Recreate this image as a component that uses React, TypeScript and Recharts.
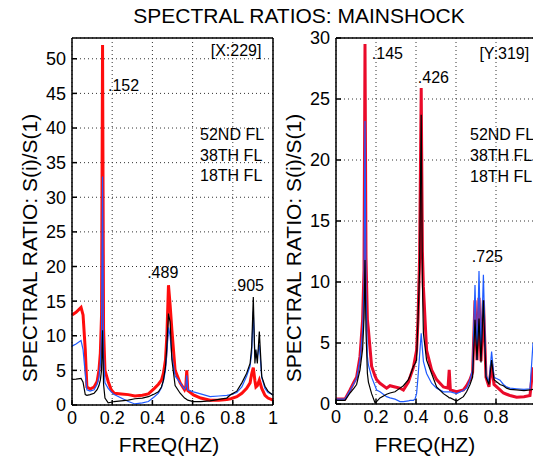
import {
  CartesianGrid,
  Line,
  LineChart,
  ReferenceDot,
  XAxis,
  YAxis,
} from "recharts";

// Left panel: X direction (freq in Hz, spectral ratio per floor)
const L_FREQ = [
  0, 0.02, 0.045, 0.055, 0.066, 0.074, 0.09, 0.11, 0.125, 0.134, 0.141, 0.147, 0.152, 0.157,
  0.164, 0.18, 0.195, 0.21, 0.245, 0.28, 0.313, 0.35, 0.38, 0.41, 0.43, 0.445, 0.455, 0.465,
  0.472, 0.48, 0.488, 0.497, 0.513, 0.538, 0.56, 0.566, 0.571, 0.576, 0.604, 0.64, 0.687,
  0.73, 0.77, 0.79, 0.82, 0.845, 0.869, 0.886, 0.894, 0.902, 0.91, 0.915, 0.922, 0.932, 0.944,
  0.96, 0.975, 1.0,
];
const L_RED = [
  13.0, 13.4, 14.1, 13.0, 8.0, 2.6, 2.3, 2.6, 3.4, 5.0, 7.5, 13.0, 52.0, 11.0,
  5.0, 3.4, 2.2, 1.7, 1.6, 1.5, 1.3, 1.4, 1.6, 2.4, 3.0, 3.6, 4.6, 6.5,
  10.0, 17.3, 14.5, 10.8, 5.0, 3.2, 2.2, 2.6, 5.0, 2.1, 1.45, 1.0, 0.7,
  0.7, 0.8, 0.9, 1.2, 1.7, 2.4, 3.2, 4.5, 5.4, 3.5, 2.6, 2.8, 3.6, 2.4,
  1.4, 1.0, 0.7,
];
const L_BLUE = [
  8.5, 8.8, 9.3, 8.0, 4.5, 2.2, 2.0, 2.2, 3.0, 4.0, 6.0, 10.0, 33.0, 7.0,
  3.2, 2.4, 1.9, 1.5, 1.0, 0.5, 0.15, 0.3, 0.5, 1.2, 1.7, 2.5, 3.5, 5.0,
  7.5, 11.2, 10.0, 7.0, 4.2, 3.2, 2.3, 2.6, 4.3, 2.2, 1.9, 1.6, 1.2,
  1.3, 1.4, 1.5, 1.8, 2.6, 4.2, 5.6, 7.5, 13.5, 7.0, 6.8, 7.0, 8.7, 4.0,
  2.4, 1.8, 1.5,
];
const L_BLACK = [
  3.7, 3.75, 3.85, 3.3, 1.5, 1.4, 1.5, 1.7, 2.2, 2.8, 3.6, 5.0, 10.8, 3.0,
  1.0, 0.3, 0.4, 0.5, 0.6, 0.7, 0.9, 1.0, 1.2, 1.6, 1.9, 2.6, 3.6, 5.5,
  8.5, 13.2, 12.0, 6.5, 2.8, 1.7, 1.0, 0.9, 0.8, 0.7, 0.5, 0.5, 0.6,
  0.8, 1.0, 1.5, 2.0, 3.2, 4.6, 6.0, 8.4, 15.6, 6.0, 8.0, 6.0, 10.6, 4.1,
  2.7, 2.0, 1.4,
];

// Right panel: Y direction
const R_FREQ = [
  0, 0.045, 0.07, 0.09, 0.103, 0.12, 0.133, 0.14, 0.145, 0.15, 0.157, 0.162, 0.178, 0.195,
  0.203, 0.22, 0.253, 0.27, 0.295, 0.32, 0.337, 0.362, 0.37, 0.387, 0.395, 0.403, 0.41, 0.418,
  0.426, 0.432, 0.437, 0.453, 0.478, 0.503, 0.537, 0.56, 0.566, 0.572, 0.603, 0.637, 0.653,
  0.67, 0.683, 0.695, 0.705, 0.715, 0.725, 0.737, 0.75, 0.765, 0.778, 0.79, 0.82, 0.837,
  0.853, 0.87, 0.903, 0.94, 0.97, 0.985, 1.0,
];
const R_RED = [
  0.4, 0.4, 1.15, 1.8, 2.2, 3.9, 6.9, 11.0, 29.5, 12.0, 6.9, 6.1, 3.1, 2.3,
  2.0, 1.7, 1.3, 1.5, 1.4, 1.3, 1.15, 1.8, 2.2, 3.0, 3.7, 4.4, 6.9, 12.0,
  25.9, 12.5, 9.6, 4.4, 2.8, 2.0, 1.4, 1.3, 2.8, 1.15, 1.0, 1.15, 1.5,
  2.0, 2.6, 8.5, 3.6, 8.7, 3.5, 8.5, 2.2, 1.4, 3.3, 1.6, 1.15, 0.9,
  0.8, 0.7, 0.55, 0.6, 0.7, 3.0, 0.8,
];
const R_BLUE = [
  0.4, 0.4, 1.1, 1.7, 2.1, 3.6, 6.0, 9.5, 23.2, 9.0, 3.9, 3.2, 2.2, 1.5,
  1.15, 1.0, 0.6, 0.5, 0.4, 0.2, 0.2, 0.25, 0.3, 0.3, 0.4, 0.85, 2.2, 4.0,
  5.8, 4.5, 3.5, 2.5, 1.7, 1.3, 1.0, 1.0, 1.0, 1.0, 0.85, 1.1, 1.3,
  2.0, 2.8, 9.75, 3.6, 10.9, 3.9, 10.6, 2.4, 1.8, 4.3, 2.2, 1.95, 1.6,
  1.4, 1.3, 1.25, 1.2, 1.25, 5.0, 2.0,
];
const R_BLACK = [
  0.3, 0.3, 0.9, 1.3, 1.6, 2.8, 4.5, 7.0, 11.8, 6.0, 2.5, 1.8, 0.85, 0.1,
  0.2, 0.5, 0.8, 0.9, 1.0, 1.3, 1.5, 2.0, 2.3, 3.1, 3.3, 3.6, 6.9, 11.0,
  23.7, 10.0, 5.8, 3.6, 2.5, 1.4, 0.85, 0.6, 0.5, 0.5, 0.25, 0.6, 1.0,
  1.6, 2.2, 6.9, 3.6, 7.0, 3.4, 8.5, 2.2, 1.6, 3.6, 2.0, 1.6, 1.5,
  1.3, 1.2, 1.15, 1.1, 1.15, 1.2, 1.1,
];

const X_TICKS_L = [0, 0.2, 0.4, 0.6, 0.8, 1];
const X_TICKS_R = [0, 0.2, 0.4, 0.6, 0.8];
const Y_TICKS_L = [0, 5, 10, 15, 20, 25, 30, 35, 40, 45, 50];
const Y_TICKS_R = [0, 5, 10, 15, 20, 25, 30];

// text notes placed at data coordinates [freq, ratio, text]
const L_NOTES: [number, number, string][] = [
  [0.179, 45.3, ".152"],
  [0.69, 50.4, "[X:229]"],
  [0.637, 38.3, "52ND FL"],
  [0.637, 35.2, "38TH FL"],
  [0.637, 32.3, "18TH FL"],
  [0.374, 18.35, ".489"],
  [0.8, 16.5, ".905"],
];
const R_NOTES: [number, number, string][] = [
  [0.179, 28.3, ".145"],
  [0.409, 26.3, ".426"],
  [0.717, 28.3, "[Y:319]"],
  [0.67, 21.6, "52ND FL"],
  [0.67, 19.9, "38TH FL"],
  [0.67, 18.2, "18TH FL"],
  [0.679, 11.6, ".725"],
];

const FONT = "'Liberation Sans', Arial, Helvetica, sans-serif";

const buildRows = (freq: number[], red: number[], blue: number[], black: number[]) =>
  freq.map((f, i) => ({ f, red: red[i], blue: blue[i], black: black[i] }));

const noteShape = (text: string) => (p: any) => (
  <text x={p.cx} y={p.cy} fontSize={16} fill="#000" fontFamily={FONT}>
    {text}
  </text>
);

interface PanelProps {
  rows: any[];
  width: number;
  margin: { top: number; right: number; bottom: number; left: number };
  yMax: number;
  xTicks: number[];
  yTicks: number[];
  notes: [number, number, string][];
  redColor: string;
}

const Panel = ({ rows, width, margin, yMax, xTicks, yTicks, notes, redColor }: PanelProps) => (
  <LineChart width={width} height={461} data={rows} margin={margin}>
    <CartesianGrid stroke="#333" strokeDasharray="1 3" />
    <XAxis
      dataKey="f"
      type="number"
      domain={[0, 1]}
      ticks={xTicks}
      height={30}
      stroke="#000"
      strokeWidth={1.5}
      tickSize={-5}
      tickMargin={11}
      tick={{ fontSize: 18, fill: "#000", fontFamily: FONT }}
    />
    <XAxis
      xAxisId="top"
      dataKey="f"
      type="number"
      orientation="top"
      domain={[0, 1]}
      ticks={xTicks}
      height={1}
      stroke="#000"
      strokeWidth={1.5}
      tickSize={-5}
      tick={false}
    />
    <YAxis
      type="number"
      domain={[0, yMax]}
      ticks={yTicks}
      width={40}
      stroke="#000"
      strokeWidth={1.5}
      tickSize={-5}
      tickMargin={11}
      tick={{ fontSize: 18, fill: "#000", fontFamily: FONT }}
    />
    <YAxis
      yAxisId="right"
      orientation="right"
      type="number"
      domain={[0, yMax]}
      ticks={yTicks}
      width={1}
      stroke="#000"
      strokeWidth={1.5}
      tickSize={-5}
      tick={false}
    />
    <Line dataKey="red" stroke={redColor} strokeWidth={3} dot={false} isAnimationActive={false} />
    <Line dataKey="blue" stroke="#1f5bff" strokeWidth={1.2} dot={false} isAnimationActive={false} />
    <Line dataKey="black" stroke="#000" strokeWidth={1.2} dot={false} isAnimationActive={false} />
    {notes.map(([x, y, t]) => (
      <ReferenceDot key={t} x={x} y={y} r={0} shape={noteShape(t)} />
    ))}
  </LineChart>
);

export default function App() {
  const leftRows = buildRows(L_FREQ, L_RED, L_BLUE, L_BLACK);
  const rightRows = buildRows(R_FREQ, R_RED, R_BLUE, R_BLACK);

  return (
    <div
      style={{
        position: "absolute",
        left: 0,
        top: 0,
        width: 533,
        height: 461,
        overflow: "hidden",
        background: "#fff",
        fontFamily: FONT,
      }}
    >
      <div style={{ position: "absolute", left: 0, top: 0 }}>
        <Panel
          rows={leftRows}
          width={290}
          margin={{ top: 37, right: 16, bottom: 26, left: 32 }}
          yMax={53}
          xTicks={X_TICKS_L}
          yTicks={Y_TICKS_L}
          notes={L_NOTES}
          redColor="#ff0d0d"
        />
      </div>
      <div style={{ position: "absolute", left: 290, top: 0 }}>
        <Panel
          rows={rightRows}
          width={260}
          margin={{ top: 37, right: 13, bottom: 27, left: 6 }}
          yMax={30}
          xTicks={X_TICKS_R}
          yTicks={Y_TICKS_R}
          notes={R_NOTES}
          redColor="#ea0a2a"
        />
      </div>
      {/* titles */}
      <svg
        width={533}
        height={461}
        style={{ position: "absolute", left: 0, top: 0, pointerEvents: "none" }}
      >
        <text x={299} y={23} textAnchor="middle" fontSize={21} fill="#000" fontFamily={FONT}>
          SPECTRAL RATIOS: MAINSHOCK
        </text>
        <text
          transform="translate(37,248) rotate(-90)"
          textAnchor="middle"
          fontSize={21}
          fill="#000"
          fontFamily={FONT}
        >
          SPECTRAL RATIO: S(i)/S(1)
        </text>
        <text
          transform="translate(301,248) rotate(-90)"
          textAnchor="middle"
          fontSize={21}
          fill="#000"
          fontFamily={FONT}
        >
          SPECTRAL RATIO: S(i)/S(1)
        </text>
        <text x={169} y={452} textAnchor="middle" fontSize={21} fill="#000" fontFamily={FONT}>
          FREQ(HZ)
        </text>
        <text x={425} y={452} textAnchor="middle" fontSize={21} fill="#000" fontFamily={FONT}>
          FREQ(HZ)
        </text>
      </svg>
    </div>
  );
}
